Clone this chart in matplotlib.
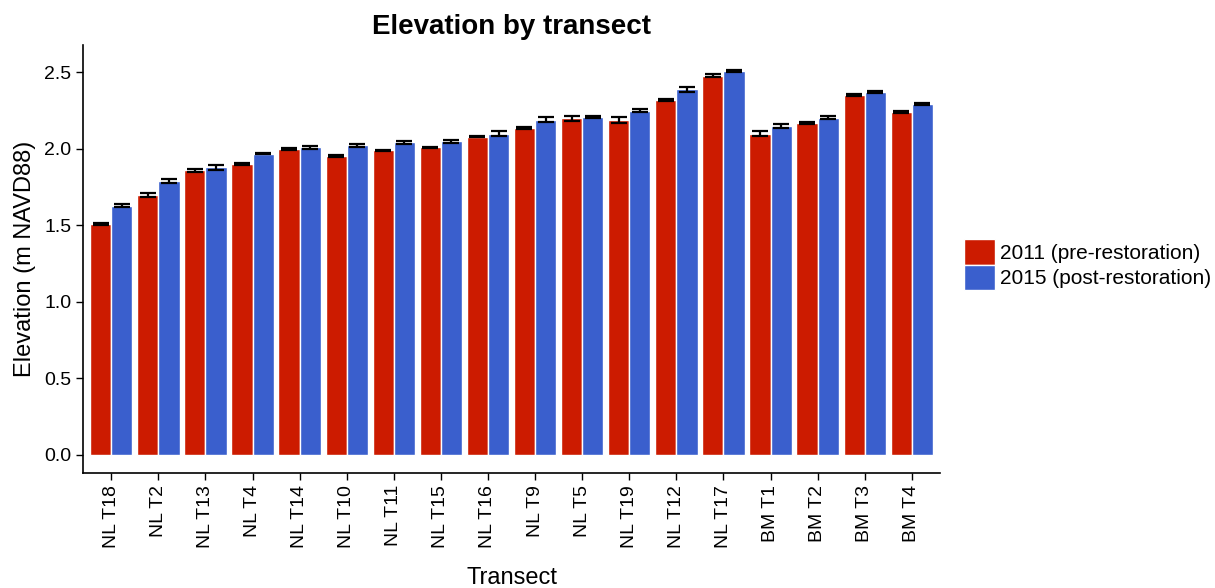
import matplotlib.pyplot as plt
import numpy as np
from matplotlib.patches import Patch

plt.rcParams['font.family'] = ['Liberation Sans', 'DejaVu Sans']

transects = ["NL T18", "NL T2", "NL T13", "NL T4", "NL T14", "NL T10", "NL T11",
             "NL T15", "NL T16", "NL T9", "NL T5", "NL T19", "NL T12", "NL T17",
             "BM T1", "BM T2", "BM T3", "BM T4"]
elev_2011 = [1.51, 1.70, 1.86, 1.90, 2.00, 1.955, 1.99, 2.01, 2.08, 2.135, 2.20, 2.19,
             2.32, 2.48, 2.10, 2.17, 2.355, 2.24]
elev_2015 = [1.63, 1.79, 1.88, 1.97, 2.01, 2.025, 2.045, 2.05, 2.10, 2.19, 2.21, 2.25,
             2.39, 2.51, 2.15, 2.205, 2.37, 2.295]
se_2011 = [0.005, 0.015, 0.008, 0.008, 0.008, 0.006, 0.006, 0.006, 0.005, 0.006, 0.015, 0.018,
           0.007, 0.01, 0.018, 0.007, 0.006, 0.007]
se_2015 = [0.007, 0.012, 0.015, 0.006, 0.01, 0.01, 0.01, 0.008, 0.015, 0.017, 0.008, 0.01,
           0.016, 0.008, 0.01, 0.01, 0.007, 0.008]
labels = ["2011 (pre-restoration)", "2015 (post-restoration)"]
colors = ["#CC1B00", "#3A5FCD"]

fig = plt.figure(figsize=(12.15, 5.88), dpi=100)
ax = fig.add_axes([0.0683, 0.1956, 0.7054, 0.728])

x = np.arange(len(transects))
w = 0.45
for vals, err, col, off in [(elev_2011, se_2011, colors[0], -w / 2),
                            (elev_2015, se_2015, colors[1], w / 2)]:
    ax.bar(x + off, vals, width=w, color=col, edgecolor='white', linewidth=1.0)
    ax.errorbar(x + off, vals, yerr=err, fmt='none', ecolor='black',
                elinewidth=1.6, capsize=5.5, capthick=1.6)

ax.set_xlim(-0.6, len(transects) - 0.4)
ax.set_ylim(-0.118, 2.68)
ax.set_yticks([0, 0.5, 1.0, 1.5, 2.0, 2.5])
ax.set_yticklabels(["0.0", "0.5", "1.0", "1.5", "2.0", "2.5"])
ax.set_xticks(x)
ax.set_xticklabels(transects, rotation=90)
ax.tick_params(labelsize=14, length=5, width=1, color='black')

for s in ['top', 'right']:
    ax.spines[s].set_visible(False)
for s in ['left', 'bottom']:
    ax.spines[s].set_linewidth(1.2)

ax.set_xlabel("Transect", fontsize=17, labelpad=14)
ax.set_ylabel("Elevation (m NAVD88)", fontsize=17, labelpad=6)
ax.set_title("Elevation by transect", fontsize=20, fontweight='bold', pad=8)

handles = [Patch(facecolor=c, edgecolor='white') for c in colors]
fig.legend(handles, labels, loc='center left', bbox_to_anchor=(0.785, 0.55),
           frameon=False, fontsize=15, handlelength=1.5, handleheight=1.5,
           handletextpad=0.2, labelspacing=0.0, borderpad=0)

fig.savefig("out.png", dpi=100)
